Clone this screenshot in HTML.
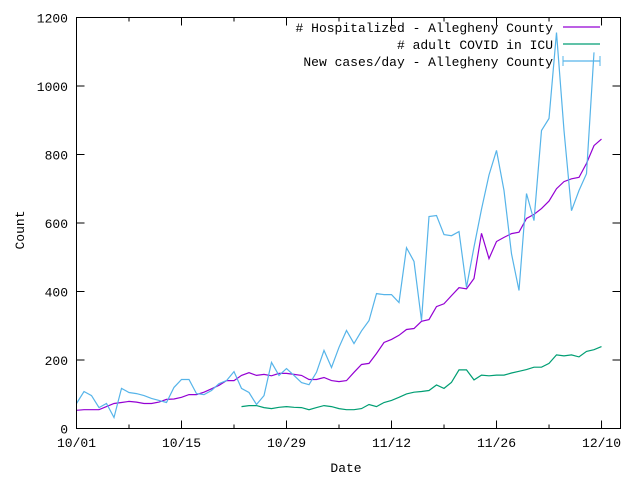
<!DOCTYPE html>
<html><head><meta charset="utf-8"><style>
html,body{margin:0;padding:0;background:#fff}
svg{display:block}
text{font-family:"Liberation Mono",monospace;font-size:13px;fill:#000}
</style></head><body>
<svg id="chart" width="640" height="480" viewBox="0 0 640 480" xmlns="http://www.w3.org/2000/svg">
<rect x="0" y="0" width="640" height="480" fill="#fff"/>
<g id="grid"></g>
<g id="series"></g>
<rect x="76.5" y="17.5" width="544" height="411" fill="none" stroke="#000" stroke-width="1"/>
<text transform="translate(24,230) rotate(-90)" text-anchor="middle">Count</text>
<text x="346" y="472" text-anchor="middle">Date</text>
<g id="legend"></g>
</svg>
<script>
const xTickLabels = ["10/01","10/15","10/29","11/12","11/26","12/10"];
const xTickDays = [0,14,28,42,56,70];
const yTicks = [0,200,400,600,800,1000,1200];
const hospStart = 0;
const hospitalized = [53,55,55,55,64,73,76,79,77,73,73,77,85,86,91,99,99,106,116,126,140,140,155,163,155,158,154,161,161,158,155,143,143,149,140,137,140,164,187,190,219,251,260,272,289,292,313,318,356,364,388,411,408,438,570,496,546,558,569,573,613,625,642,664,700,721,729,733,774,826,845];
const icuStart = 22;
const icu = [64,67,67,61,58,62,64,62,61,55,61,67,64,58,55,55,58,70,64,76,82,91,101,106,108,111,127,117,135,171,171,142,156,154,156,156,162,167,172,179,179,190,215,212,215,209,225,230,239];
const casesStart = 0;
const cases = [73,108,96,61,73,32,117,105,102,96,88,82,76,120,143,143,102,99,111,131,140,166,117,105,70,96,193,155,175,155,134,128,164,228,178,237,286,248,285,315,394,391,391,368,528,488,315,619,622,566,563,575,412,530,640,740,812,695,510,403,686,607,870,905,1156,870,636,695,744,1098];

const X0=76.5, X1=620.5, Y0=428.5, Y1=17.5, DMAX=72.53, VMAX=1200;
function xs(d){return X0+(d/DMAX)*(X1-X0);}
function ys(v){return Y0-(v/VMAX)*(Y0-Y1);}
const NS="http://www.w3.org/2000/svg";
function mk(tag,attrs,parent){const e=document.createElementNS(NS,tag);for(const k in attrs)e.setAttribute(k,attrs[k]);parent.appendChild(e);return e;}
const grid=document.getElementById('grid');
yTicks.forEach(v=>{
  const y=ys(v);
  const t=mk('line',{x1:X0,x2:X0+8,y1:y,y2:y,stroke:'#000'},grid);
  
  
  mk('line',{x1:X1-8,x2:X1,y1:y,y2:y,stroke:'#000'},grid);
  const l=mk('text',{x:68,y:y+5,'text-anchor':'end'},grid);
  l.textContent=v;
  
  
});
for(let d=7; d<DMAX; d+=14){
  const x=xs(d);
  mk('line',{x1:x,x2:x,y1:Y0,y2:Y0-4,stroke:'#000'},grid);
  mk('line',{x1:x,x2:x,y1:Y1,y2:Y1+4,stroke:'#000'},grid);
}
xTickDays.forEach((d,i)=>{
  const x=xs(d);
  const t=mk('line',{x1:x,x2:x,y1:Y0,y2:Y0-8,stroke:'#000'},grid);
  
  
  mk('line',{x1:x,x2:x,y1:Y1,y2:Y1+8,stroke:'#000'},grid);
  const l=mk('text',{x:x,y:447,'text-anchor':'middle'},grid);
  l.textContent=xTickLabels[i];
  
  
});
const ser=document.getElementById('series');
function line(arr,start,color,name){
  const pts=arr.map((v,i)=>xs(start+i).toFixed(1)+','+ys(v).toFixed(1)).join(' ');
  const p=mk('polyline',{points:pts,fill:'none',stroke:color,'stroke-width':1.2},ser);
  
  
}
line(hospitalized,hospStart,'#9400d3','hospitalized-line');
line(icu,icuStart,'#009e73','icu-line');
line(cases,casesStart,'#56b4e9','cases-line');
const leg=document.getElementById('legend');
const entries=[["# Hospitalized - Allegheny County",'#9400d3'],["# adult COVID in ICU",'#009e73'],["New cases/day - Allegheny County",'#56b4e9']];
entries.forEach((e,i)=>{
  const y=27+i*17;
  const t=mk('text',{x:553,y:y+5,'text-anchor':'end'},leg);
  t.textContent=e[0];
  
  
  mk('line',{x1:563,x2:600,y1:y,y2:y,stroke:e[1],'stroke-width':1.2},leg);
  if(i===2){
    mk('line',{x1:563,x2:563,y1:y-5,y2:y+5,stroke:e[1]},leg);
    mk('line',{x1:600,x2:600,y1:y-5,y2:y+5,stroke:e[1]},leg);
  }
});
</script>
</body></html>
